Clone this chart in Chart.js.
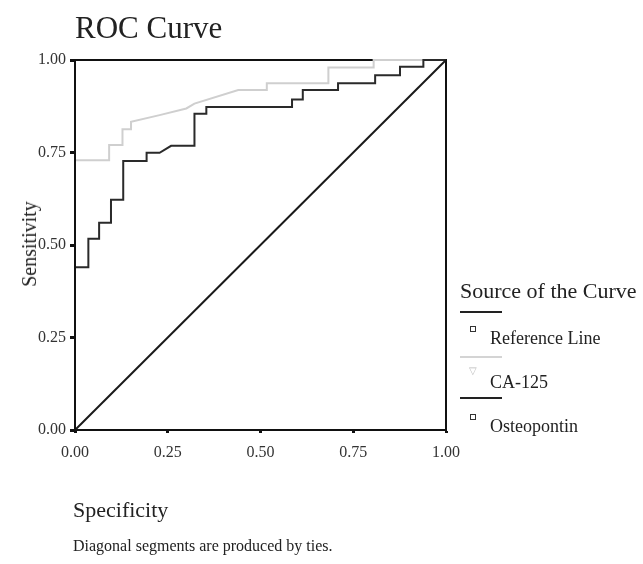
<!DOCTYPE html>
<html>
<head>
<meta charset="utf-8">
<script src="https://cdn.jsdelivr.net/npm/chart.js@4.4.0/dist/chart.umd.min.js"></script>
<style>
  body { margin: 0; background: #fff; }
  #wrap { position: relative; width: 643px; height: 564px; font-family: "Liberation Serif", serif; color: #222; overflow: hidden; }
  #roc { position: absolute; left: 0; top: 0; }
  .txt { position: absolute; white-space: nowrap; line-height: 1; }
  .ln { position: absolute; height: 0; border-top: 2px solid #222; }
  .sq { position: absolute; width: 4px; height: 4px; border: 1.5px solid #333; }
</style>
</head>
<body>
<div id="wrap">
  <canvas id="roc" width="643" height="564"></canvas>
  <div class="txt" style="left:75px; top:12px; font-size:31px;">ROC Curve</div>
  <div class="txt" style="left:29px; top:244px; font-size:20px; transform: translate(-50%, -50%) rotate(-90deg);">Sensitivity</div>
  <div class="txt" style="left:73px; top:499px; font-size:22px;">Specificity</div>
  <div class="txt" style="left:73px; top:538px; font-size:16px;">Diagonal segments are produced by ties.</div>

  <div class="txt" style="left:460px; top:280px; font-size:22px;">Source of the Curve</div>
  <div class="ln" style="left:460px; top:311px; width:42px;"></div>
  <div class="sq" style="left:470px; top:326px;"></div>
  <div class="txt" style="left:490px; top:329px; font-size:18px;">Reference Line</div>
  <div class="ln" style="left:460px; top:356px; width:42px; border-color:#d4d4d4;"></div>
  <div class="txt" style="left:469px; top:366px; font-size:10px; color:#bbb;">▽</div>
  <div class="txt" style="left:490px; top:373px; font-size:18px;">CA-125</div>
  <div class="ln" style="left:460px; top:397px; width:42px;"></div>
  <div class="sq" style="left:470px; top:414px;"></div>
  <div class="txt" style="left:490px; top:417px; font-size:18px;">Osteopontin</div>
</div>
<script>
// x = specificity axis value, y = sensitivity (corner points of the curves)
var refX = [0, 1];
var refY = [0, 1];

var caX = [0, 0, 0.092, 0.092, 0.128, 0.128, 0.151, 0.151, 0.228, 0.30, 0.322, 0.44, 0.517, 0.517, 0.683, 0.683, 0.805, 0.805, 1];
var caY = [0, 0.729, 0.729, 0.77, 0.77, 0.813, 0.813, 0.833, 0.851, 0.869, 0.882, 0.919, 0.919, 0.937, 0.937, 0.98, 0.98, 1, 1];

var ostX = [0, 0, 0.036, 0.036, 0.065, 0.065, 0.097, 0.097, 0.13, 0.13, 0.193, 0.193, 0.228, 0.259, 0.322, 0.322, 0.354, 0.354,
            0.585, 0.585, 0.614, 0.614, 0.709, 0.709, 0.809, 0.809, 0.876, 0.876, 0.939, 0.939, 1];
var ostY = [0, 0.44, 0.44, 0.517, 0.517, 0.56, 0.56, 0.622, 0.622, 0.727, 0.727, 0.749, 0.749, 0.768, 0.768, 0.855, 0.855, 0.873,
            0.873, 0.893, 0.893, 0.919, 0.919, 0.937, 0.937, 0.959, 0.959, 0.982, 0.982, 1, 1];

var tickVals = [0, 0.25, 0.5, 0.75, 1];

function pts(xs, ys) {
    return xs.map(function (x, i) { return {x: x, y: ys[i]}; });
}

// top/right box edges go under the curves, left edge on top of them
var frame = {
    id: 'frame',
    beforeDatasetsDraw: function (chart) {
        var a = chart.chartArea, c = chart.ctx;
        c.save();
        c.strokeStyle = '#111';
        c.lineWidth = 2;
        c.beginPath();
        c.moveTo(a.left, a.top);
        c.lineTo(a.right, a.top);
        c.lineTo(a.right, a.bottom);
        c.stroke();
        c.restore();
    },
    afterDatasetsDraw: function (chart) {
        var a = chart.chartArea, c = chart.ctx;
        c.save();
        c.strokeStyle = '#111';
        c.lineWidth = 2;
        c.beginPath();
        c.moveTo(a.left, a.top);
        c.lineTo(a.left, a.bottom);
        c.stroke();
        c.restore();
    }
};

var tickFont = {family: 'Liberation Serif', size: 16};

new Chart(document.getElementById('roc').getContext('2d'), {
    type: 'line',
    data: {
        datasets: [{
            label: 'Reference Line',
            data: pts(refX, refY),
            borderColor: '#1a1a1a',
            borderWidth: 2,
            pointRadius: 0,
            clip: false
        }, {
            label: 'Osteopontin',
            data: pts(ostX, ostY),
            borderColor: '#2a2a2a',
            borderWidth: 2,
            pointRadius: 0,
            clip: false
        }, {
            label: 'CA-125',
            data: pts(caX, caY),
            borderColor: '#cfcfcf',
            borderWidth: 2,
            pointRadius: 0,
            clip: false
        }]
    },
    options: {
        responsive: false,
        animation: false,
        layout: {padding: {left: 0, top: 60, right: 197, bottom: 94}},
        plugins: {legend: {display: false}, tooltip: {enabled: false}},
        scales: {
            x: {
                type: 'linear', min: 0, max: 1,
                afterBuildTicks: function (s) { s.ticks = tickVals.map(function (v) { return {value: v}; }); },
                afterFit: function (s) { s.height = 40; },
                ticks: {font: tickFont, color: '#333', padding: 10, maxRotation: 0,
                        callback: function (v) { return v.toFixed(2); }},
                grid: {drawOnChartArea: false, tickLength: 3, tickWidth: 3, tickColor: '#111'},
                border: {color: '#111', width: 2}
            },
            y: {
                type: 'linear', min: 0, max: 1,
                afterBuildTicks: function (s) { s.ticks = tickVals.map(function (v) { return {value: v}; }); },
                afterFit: function (s) { s.width = 75; },
                ticks: {font: tickFont, color: '#333', padding: 4,
                        callback: function (v) { return v.toFixed(2); }},
                grid: {drawOnChartArea: false, tickLength: 5, tickWidth: 3, tickColor: '#111'},
                border: {color: '#111', width: 2}
            }
        }
    },
    plugins: [frame]
});
</script>
</body>
</html>
